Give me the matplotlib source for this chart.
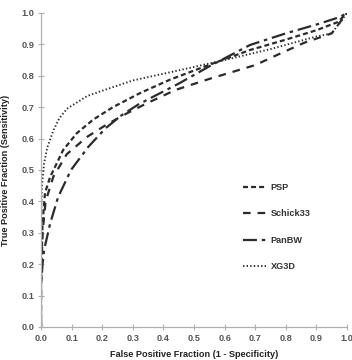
import matplotlib
matplotlib.use("Agg")
import matplotlib.pyplot as plt

plt.rcParams['font.family'] = ['Liberation Sans', 'DejaVu Sans']
plt.rcParams['lines.scale_dashes'] = False

# ROC curves (False Positive Fraction, True Positive Fraction)
psp_fpf = [0.0, 0.0, 0.005, 0.013, 0.03, 0.046, 0.072, 0.117, 0.17, 0.235, 0.324, 0.42, 0.55, 0.683, 0.8, 0.9, 0.97, 1.0]
psp_tpf = [0.0, 0.13, 0.33, 0.427, 0.478, 0.51, 0.563, 0.617, 0.66, 0.70, 0.745, 0.787, 0.835, 0.882, 0.915, 0.945, 0.971, 1.0]

schick_fpf = [0.0, 0.0, 0.005, 0.015, 0.04, 0.084, 0.15, 0.215, 0.28, 0.345, 0.44, 0.55, 0.7, 0.78, 0.86, 0.95, 1.0]
schick_tpf = [0.0, 0.13, 0.30, 0.40, 0.478, 0.55, 0.605, 0.645, 0.68, 0.712, 0.755, 0.79, 0.834, 0.87, 0.905, 0.935, 1.0]

panbw_fpf = [0.0, 0.0, 0.005, 0.01, 0.03, 0.056, 0.098, 0.154, 0.21, 0.26, 0.317, 0.36, 0.45, 0.55, 0.683, 0.8, 0.9, 0.977, 1.0]
panbw_tpf = [0.0, 0.13, 0.20, 0.245, 0.33, 0.414, 0.50, 0.573, 0.632, 0.672, 0.708, 0.73, 0.775, 0.83, 0.898, 0.935, 0.963, 0.987, 1.0]

xg3d_fpf = [0.0, 0.0, 0.003, 0.01, 0.02, 0.04, 0.06, 0.085, 0.15, 0.193, 0.3, 0.44, 0.6, 0.75, 0.9, 0.95, 1.0]
xg3d_tpf = [0.0, 0.35, 0.45, 0.52, 0.57, 0.625, 0.665, 0.695, 0.735, 0.75, 0.785, 0.815, 0.85, 0.885, 0.925, 0.935, 1.0]

labels = ['PSP', 'Schick33', 'PanBW', 'XG3D']
ticks = [0.0, 0.1, 0.2, 0.3, 0.4, 0.5, 0.6, 0.7, 0.8, 0.9, 1.0]
tick_labels = ['0.0', '0.1', '0.2', '0.3', '0.4', '0.5', '0.6', '0.7', '0.8', '0.9', '1.0']

fig = plt.figure(figsize=(3.52, 3.60), dpi=100)
ax = fig.add_axes([0.1165, 0.0917, 0.8693, 0.8723])

col = '#2b2b2b'
lw = 1.6
ax.plot(psp_fpf, psp_tpf, color=col, lw=lw, linestyle=(0, (3.6, 2.2)), label=labels[0])
ax.plot(schick_fpf, schick_tpf, color=col, lw=lw, linestyle=(0, (5.5, 5.0)), label=labels[1])
ax.plot(panbw_fpf, panbw_tpf, color=col, lw=lw, linestyle=(0, (10.0, 3.5, 2.5, 3.5)), label=labels[2])
ax.plot(xg3d_fpf, xg3d_tpf, color=col, lw=lw * 0.85, linestyle=(0, (1.0, 1.6)), label=labels[3])

ax.set_xlim(0, 1)
ax.set_ylim(0, 1)
ax.set_xticks(ticks)
ax.set_xticklabels(tick_labels)
ax.set_yticks(ticks)
ax.set_yticklabels(tick_labels)

for s in ['top', 'right']:
    ax.spines[s].set_visible(False)
for s in ['left', 'bottom']:
    ax.spines[s].set_color('#b0b0b0')
    ax.spines[s].set_linewidth(0.9)

ax.tick_params(axis='both', direction='inout', length=4, width=0.8, color='#b0b0b0',
               labelsize=6.6, labelcolor='#555555', pad=3)
for t in ax.get_xticklabels() + ax.get_yticklabels():
    t.set_fontweight('bold')

ax.set_xlabel('False Positive Fraction (1 - Specificity)', fontsize=6.6, fontweight='bold',
              color='#222222', labelpad=5)
ax.set_ylabel('True Positive Fraction (Sensitivity)', fontsize=6.6, fontweight='bold',
              color='#222222', labelpad=8)

leg = ax.legend(loc='upper left', bbox_to_anchor=(0.648, 0.47), frameon=False,
                fontsize=6.6, handlelength=2.5, handletextpad=0.5, labelspacing=1.9,
                borderaxespad=0)
for t in leg.get_texts():
    t.set_fontweight('bold')
    t.set_color('#333333')

fig.savefig('out.png', dpi=100)
